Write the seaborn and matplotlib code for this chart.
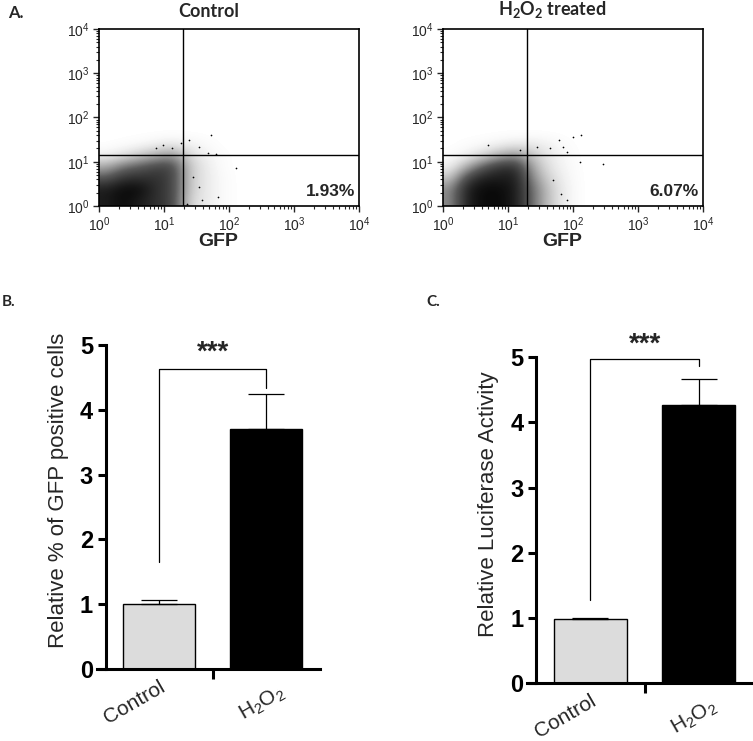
import numpy as np
import matplotlib
matplotlib.use('Agg')
import matplotlib.pyplot as plt
import matplotlib.transforms as mtrans
import seaborn as sns
from matplotlib.colors import LinearSegmentedColormap

sns.set_style('ticks')
plt.rcParams['font.family'] = ['Liberation Sans', 'DejaVu Sans']
plt.rcParams['mathtext.fontset'] = 'custom'
plt.rcParams['mathtext.rm'] = 'Liberation Sans'
plt.rcParams['mathtext.it'] = 'Liberation Sans:italic'
plt.rcParams['mathtext.bf'] = 'Lato:bold'

#### Panel A data ####
# event density per quarter decade (log10 units), rows bottom -> top, read by eye
dens_x_edges = [0.0, 2.25]
dens_y_edges = [0.0, 1.75]
dens_control = [
    [9.0, 10.0, 9.0, 8.0, 7.0, 1.5, 0.8, 0.2, 0.0],
    [9.0, 10.0, 10.0, 8.0, 7.0, 2.0, 0.8, 0.2, 0.0],
    [6.0, 8.0, 8.0, 8.0, 7.0, 2.0, 0.8, 0.2, 0.0],
    [3.0, 5.0, 6.0, 7.0, 7.0, 2.0, 0.8, 0.1, 0.0],
    [0.5, 1.0, 2.0, 3.0, 4.0, 1.5, 0.5, 0.1, 0.0],
    [0.0, 0.1, 0.2, 0.5, 0.8, 0.5, 0.2, 0.0, 0.0],
    [0.0, 0.0, 0.0, 0.0, 0.0, 0.0, 0.0, 0.0, 0.0],
]
dens_h2o2 = [
    [4.0, 9.0, 10.0, 10.0, 9.0, 5.0, 2.0, 0.5, 0.0],
    [4.0, 9.0, 10.0, 10.0, 9.0, 5.0, 2.0, 0.5, 0.0],
    [2.0, 7.0, 9.0, 9.0, 9.0, 4.0, 1.5, 0.4, 0.0],
    [0.5, 3.0, 6.0, 8.0, 8.0, 3.0, 1.0, 0.3, 0.0],
    [0.1, 0.5, 1.5, 3.0, 4.0, 2.0, 0.8, 0.2, 0.0],
    [0.0, 0.1, 0.2, 0.5, 0.8, 0.8, 0.5, 0.1, 0.0],
    [0.0, 0.0, 0.0, 0.0, 0.0, 0.0, 0.0, 0.0, 0.0],
]
# sparse events outside the main cloud (log10 GFP, log10 FL)
out_control_x = [1.73, 1.39, 1.26, 0.98, 1.13, 1.54, 1.67, 1.80, 2.10, 1.83, 1.54, 1.44, 0.87, 1.36, 1.59]
out_control_y = [1.61, 1.49, 1.42, 1.38, 1.30, 1.34, 1.19, 1.17, 0.85, 0.20, 0.43, 0.66, 1.30, 0.05, 0.13]
out_h2o2_x = [2.13, 2.00, 1.78, 1.45, 0.69, 1.85, 2.11, 2.46, 1.91, 1.19, 1.65, 1.81, 1.91, 1.70]
out_h2o2_y = [1.61, 1.57, 1.49, 1.34, 1.38, 1.34, 1.00, 0.96, 1.23, 1.27, 1.30, 0.28, 0.13, 0.58]
gate_gfp = 19.5
gate_fl = 14.0
pct_control = '1.93%'
pct_h2o2 = '6.07%'

#### Panels B and C data ####
groups = ['Control', 'H$_2$O$_2$']
bar_colors = ['#dcdcdc', '#000000']
gfp_mean = [1.00, 3.71]
gfp_err = [0.07, 0.54]
luc_mean = [0.99, 4.27]
luc_err = [0.01, 0.40]

fig = plt.figure(figsize=(7.53, 7.41), dpi=100)
cmap = LinearSegmentedColormap.from_list(
    'ev', [(0, '#ffffff'), (0.1, '#e2e2e2'), (0.55, '#5a5a5a'), (1, '#000000')])


def flow_panel(ax, dens, ox, oy, title, pct):
    ax.imshow(np.array(dens), origin='lower', aspect='auto', cmap=cmap, vmin=0, vmax=10.5,
              interpolation='bicubic',
              extent=(dens_x_edges[0], dens_x_edges[1], dens_y_edges[0], dens_y_edges[1]))
    ax.scatter(ox, oy, s=1.5, color='black', linewidths=0)
    ax.axvline(np.log10(gate_gfp), color='black', lw=1)
    ax.axhline(np.log10(gate_fl), color='black', lw=1)
    ax.set_xlim(0, 4)
    ax.set_ylim(0, 4)
    dec = [0, 1, 2, 3, 4]
    minor = [d + np.log10(m) for d in dec[:-1] for m in range(2, 10)]
    lab = ['$10^{%d}$' % d for d in dec]
    ax.set_xticks(dec)
    ax.set_xticklabels(lab, fontsize=10)
    ax.set_yticks(dec)
    ax.set_yticklabels(lab, fontsize=10)
    ax.set_xticks(minor, minor=True)
    ax.set_yticks(minor, minor=True)
    ax.tick_params(which='major', length=4, width=1, direction='out', pad=3)
    ax.tick_params(which='minor', length=2.5, width=0.8, direction='out')
    for s in ax.spines.values():
        s.set_linewidth(1.2)
        s.set_color('black')
    ax.set_xlabel('GFP', fontsize=14, fontweight='bold', labelpad=0)
    ax.xaxis.set_label_coords(0.46, -0.15)
    ax.text(0.42, 1.05, title, transform=ax.transAxes, ha='center', va='bottom',
            fontsize=13, fontweight='bold', family=['Lato', 'DejaVu Sans'])
    ax.text(0.985, 0.04, pct, transform=ax.transAxes, ha='right', va='bottom',
            fontsize=12.5, fontweight='bold')


ax1 = fig.add_axes([0.1315, 0.722, 0.3453, 0.2389])
flow_panel(ax1, dens_control, out_control_x, out_control_y, 'Control', pct_control)
ax2 = fig.add_axes([0.5883, 0.722, 0.3453, 0.2389])
flow_panel(ax2, dens_h2o2, out_h2o2_x, out_h2o2_y, 'H$_\\mathbf{2}$O$_\\mathbf{2}$ treated', pct_h2o2)


def bar_panel(ax, means, errs, ylabel, br_y, arm_l, arm_r, star_y):
    sns.barplot(x=groups, y=means, hue=groups, palette=bar_colors, legend=False,
                edgecolor='black', linewidth=1, width=0.67, errorbar=None, ax=ax)
    ax.errorbar([0, 1], means, yerr=[[0, 0], errs], fmt='none', ecolor='black',
                elinewidth=0.9, capsize=13, capthick=0.9, zorder=1)
    ax.plot([0, 0, 1, 1], [arm_l, br_y, br_y, arm_r], color='black', lw=0.9, clip_on=False)
    ax.text(0.5, star_y, '***', ha='center', va='center', fontsize=20, fontweight='bold')
    sns.despine(ax=ax)
    ax.spines['left'].set_position(('data', -0.5))
    ax.spines['left'].set_bounds(0, 5)
    for s in ['left', 'bottom']:
        ax.spines[s].set_linewidth(2.2)
        ax.spines[s].set_color('black')
    ax.set_xlim(-0.58, 1.5)
    ax.set_ylim(0, 5.5)
    ax.set_yticks([0, 1, 2, 3, 4, 5])
    ax.set_yticklabels(['0', '1', '2', '3', '4', '5'], fontsize=17, fontweight='bold')
    ax.tick_params(axis='y', length=6, width=2.2, pad=3, colors='black')
    ax.set_xticks([0, 1])
    ax.set_xticklabels(groups, rotation=30, ha='right', rotation_mode='anchor', fontsize=15)
    ax.tick_params(axis='x', which='major', length=0, pad=6)
    # the H2O2 label sits a little right of and below the bar centre in the original
    lbl = ax.get_xticklabels()[1]
    lbl.set_transform(lbl.get_transform() + mtrans.ScaledTranslation(12 / 100, -4 / 100, fig.dpi_scale_trans))
    ax.set_xticks([0.5], minor=True)
    ax.tick_params(axis='x', which='minor', length=7, width=2.2, color='black')
    ax.set_xlabel('')
    ax.set_ylabel(ylabel, fontsize=16, labelpad=8)


ax3 = fig.add_axes([0.1288, 0.0972, 0.2962, 0.481])
bar_panel(ax3, gfp_mean, gfp_err, 'Relative % of GFP positive cells', 4.63, 1.65, 4.33, 4.88)
ax4 = fig.add_axes([0.7004, 0.0779, 0.2996, 0.484])
bar_panel(ax4, luc_mean, luc_err, 'Relative Luciferase Activity', 4.98, 1.27, 4.87, 5.19)

lab_font = ['Lato', 'DejaVu Sans']
fig.text(8 / 753, 1 - 18 / 741, 'A.', fontsize=12, fontweight='bold', family=lab_font)
fig.text(2 / 753, 1 - 306 / 741, 'B.', fontsize=11, fontweight='bold', family=lab_font)
fig.text(426 / 753, 1 - 306 / 741, 'C.', fontsize=11, fontweight='bold', family=lab_font)

fig.savefig('out.png', dpi=100)
